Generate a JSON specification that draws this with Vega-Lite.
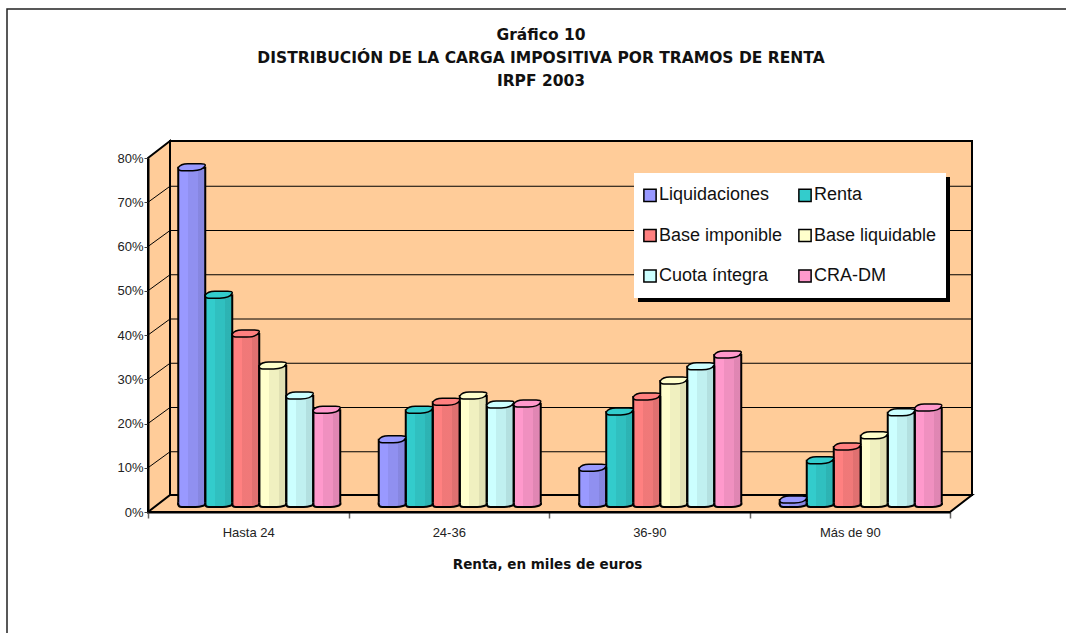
{
"$schema":"https://vega.github.io/schema/vega-lite/v6.json",
"width":802,"height":354,
"autosize":{"type":"none"},
"padding":{"left":148,"top":158,"right":116,"bottom":121},
"background":"white",
"title":{"text":["Gráfico 10","DISTRIBUCIÓN DE LA CARGA IMPOSITIVA POR TRAMOS DE RENTA","IRPF 2003"],"font":"DejaVu Sans","fontWeight":"bold","fontSize":15.5,"lineHeight":23,"color":"#111111","anchor":"middle","dx":-8,"offset":-83,"baseline":"top"},
"config":{"view":{"stroke":null}},
"datasets":{
"barras":[
{"tramo":"Hasta 24","serie":"Liquidaciones","v":0.76},{"tramo":"Hasta 24","serie":"Renta","v":0.472},{"tramo":"Hasta 24","serie":"Base imponible","v":0.384},{"tramo":"Hasta 24","serie":"Base liquidable","v":0.312},{"tramo":"Hasta 24","serie":"Cuota íntegra","v":0.244},{"tramo":"Hasta 24","serie":"CRA-DM","v":0.212},
{"tramo":"24-36","serie":"Liquidaciones","v":0.145},{"tramo":"24-36","serie":"Renta","v":0.212},{"tramo":"24-36","serie":"Base imponible","v":0.23},{"tramo":"24-36","serie":"Base liquidable","v":0.244},{"tramo":"24-36","serie":"Cuota íntegra","v":0.224},{"tramo":"24-36","serie":"CRA-DM","v":0.226},
{"tramo":"36-90","serie":"Liquidaciones","v":0.081},{"tramo":"36-90","serie":"Renta","v":0.208},{"tramo":"36-90","serie":"Base imponible","v":0.242},{"tramo":"36-90","serie":"Base liquidable","v":0.278},{"tramo":"36-90","serie":"Cuota íntegra","v":0.31},{"tramo":"36-90","serie":"CRA-DM","v":0.337},
{"tramo":"Más de 90","serie":"Liquidaciones","v":0.009},{"tramo":"Más de 90","serie":"Renta","v":0.098},{"tramo":"Más de 90","serie":"Base imponible","v":0.129},{"tramo":"Más de 90","serie":"Base liquidable","v":0.154},{"tramo":"Más de 90","serie":"Cuota íntegra","v":0.206},{"tramo":"Más de 90","serie":"CRA-DM","v":0.217}
]},
"data":{"name":"barras"},
"encoding":{
"x":{"field":"tramo","type":"nominal","sort":null,"scale":{"domain":["Hasta 24","24-36","36-90","Más de 90"],"paddingInner":0,"paddingOuter":0},
"axis":{"title":"Renta, en miles de euros","titleFont":"DejaVu Sans","titleFontWeight":"bold","titleFontSize":13.5,"titleColor":"#111111","titlePadding":18,"titleX":399,"labelFont":"Liberation Sans","labelFontSize":13,"labelColor":"#222222","labelAngle":0,"labelPadding":8,"tickBand":"extent","tickColor":"#666666","tickWidth":1.5,"tickSize":6,"domainColor":"black","domainWidth":2,"grid":false,"zindex":1}},
"y":{"field":"v","type":"quantitative","scale":{"domain":[0,0.8],"nice":false},
"axis":{"title":null,"values":[0,0.1,0.2,0.3,0.4,0.5,0.6,0.7,0.8],"format":".0%","labelFont":"Liberation Sans","labelFontSize":13,"labelColor":"#222222","labelPadding":1,"tickColor":"#444444","tickSize":4,"tickWidth":1,"domainColor":"black","domainWidth":2,"grid":false,"zindex":1}},
"xOffset":{"field":"serie","type":"nominal","scale":{"domain":["Liquidaciones","Renta","Base imponible","Base liquidable","Cuota íntegra","CRA-DM"],"range":[11,211.5],"paddingInner":0,"paddingOuter":0.713}}
},
"layer":[
{"data":{"values":[{"tramo":"Hasta 24","v":0}]},
 "mark":{"type":"point","size":4,"filled":false,"opacity":1,"fill":"#FFCC99","stroke":"black","strokeWidth":2,"clip":false,
 "shape":"M22,-17 L824,-17 L824,-371 L22,-371 Z M0,0 L22,-17 L22,-371 L0,-354 Z M0,0 L22,-17 L824,-17 L802,0 Z"},
 "encoding":{"x":{"field":"tramo","type":"nominal","bandPosition":0},"xOffset":{"value":0}}},
{"data":{"values":[{"tramo":"Hasta 24","v":0}]},
 "mark":{"type":"point","size":4,"filled":false,"opacity":1,"stroke":"#222222","strokeWidth":1.5,"clip":false,
 "shape":"M-141,121 V-503 H918"},
 "encoding":{"x":{"field":"tramo","type":"nominal","bandPosition":0},"xOffset":{"value":0}}},
{"data":{"values":[{"tramo":"Hasta 24","v":0.1},{"tramo":"Hasta 24","v":0.2},{"tramo":"Hasta 24","v":0.3},{"tramo":"Hasta 24","v":0.4},{"tramo":"Hasta 24","v":0.5},{"tramo":"Hasta 24","v":0.6},{"tramo":"Hasta 24","v":0.7}]},
 "mark":{"type":"point","size":4,"filled":false,"opacity":1,"stroke":"black","strokeWidth":1,"clip":false,
 "shape":"M0,0 L22,-16 L824,-16"},
 "encoding":{"x":{"field":"tramo","type":"nominal","bandPosition":0},"xOffset":{"value":0}}},
{"data":{"values":[{"tramo":"36-90","v":0.8}]},
 "mark":{"type":"point","size":4,"filled":true,"opacity":1,"fill":"black","stroke":null,"clip":false,"shape":"M89,19 H401 V144 H89 Z"},
 "encoding":{"x":{"field":"tramo","type":"nominal","bandPosition":0},"xOffset":{"value":0}}},
{"data":{"values":[{"tramo":"36-90","v":0.8}]},
 "mark":{"type":"point","size":4,"filled":true,"opacity":1,"fill":"white","stroke":null,"clip":false,"shape":"M85,15 H397 V140 H85 Z"},
 "encoding":{"x":{"field":"tramo","type":"nominal","bandPosition":0},"xOffset":{"value":0}}},
{"mark":{"type":"bar","yOffset":-8,"y2Offset":-8,"width":27},
 "encoding":{"y2":{"datum":0},
 "color":{"field":"serie","type":"nominal","scale":{"domain":["Liquidaciones","Renta","Base imponible","Base liquidable","Cuota íntegra","CRA-DM"],"range":["#9999FF","#33CCCC","#FF8080","#FFFFCC","#CCFFFF","#FF99CC"]},
 "legend":{"title":null,"orient":"none","legendX":493,"legendY":28,"direction":"horizontal","columns":2,"symbolType":"square","symbolSize":150,"symbolStrokeColor":"black","symbolStrokeWidth":1.5,"symbolOpacity":1,"labelFont":"Liberation Sans","labelFontSize":18,"labelColor":"#111111","labelOffset":0,"labelLimit":200,"rowPadding":20.5,"columnPadding":12}}}},
{"mark":{"type":"bar","yOffset":-8,"y2Offset":-8,"width":27,"stroke":"black","strokeWidth":2,
 "fill":{"gradient":"linear","x1":0,"x2":1,"y1":0,"y2":0,"stops":[{"offset":0,"color":"rgba(0,0,0,0)"},{"offset":0.36,"color":"rgba(0,0,0,0)"},{"offset":0.36,"color":"rgba(0,0,0,0.06)"},{"offset":0.72,"color":"rgba(0,0,0,0.06)"},{"offset":0.72,"color":"rgba(0,0,0,0.12)"},{"offset":1,"color":"rgba(0,0,0,0.12)"}]}},
 "encoding":{"y2":{"datum":0}}},
{"mark":{"type":"point","size":4,"filled":true,"opacity":1,"yOffset":-8,"shape":"M-13.5,-1.5 L-13.5,0 C-13.5,2 -12,3 -10,3 L4,3 C9,3 13.5,1.5 13.5,0 L13.5,-1.5"},
 "encoding":{"y":{"datum":0},"fill":{"field":"serie","type":"nominal","legend":null,"scale":{"domain":["Liquidaciones","Renta","Base imponible","Base liquidable","Cuota íntegra","CRA-DM"],"range":["#9999FF","#33CCCC","#FF8080","#FFFFCC","#CCFFFF","#FF99CC"]}}}},
{"mark":{"type":"point","size":4,"filled":true,"opacity":1,"yOffset":-8,"stroke":"black","strokeWidth":2,"shape":"M-13.5,-1.5 L-13.5,0 C-13.5,2 -12,3 -10,3 L4,3 C9,3 13.5,1.5 13.5,0 L13.5,-1.5",
 "fill":{"gradient":"linear","x1":0,"x2":1,"y1":0,"y2":0,"stops":[{"offset":0,"color":"rgba(0,0,0,0)"},{"offset":0.36,"color":"rgba(0,0,0,0)"},{"offset":0.36,"color":"rgba(0,0,0,0.06)"},{"offset":0.72,"color":"rgba(0,0,0,0.06)"},{"offset":0.72,"color":"rgba(0,0,0,0.12)"},{"offset":1,"color":"rgba(0,0,0,0.12)"}]}},
 "encoding":{"y":{"datum":0}}},
{"mark":{"type":"point","size":4,"filled":true,"opacity":1,"stroke":"black","strokeWidth":1.5,"yOffset":-8,"shape":"M-13.5,0 C-12,-2.5 -8,-4 -4,-4 L9,-4 C12,-4 14,-3.5 13.5,-2 C12,1 7,3 1,3 L-10,3 C-12.5,3 -13.5,1.5 -13.5,0 Z"},
 "encoding":{"fill":{"field":"serie","type":"nominal","legend":null,"scale":{"domain":["Liquidaciones","Renta","Base imponible","Base liquidable","Cuota íntegra","CRA-DM"],"range":["#7373BF","#269999","#BF6060","#BFBF99","#99BFBF","#BF7399"]}}}}
]
}
